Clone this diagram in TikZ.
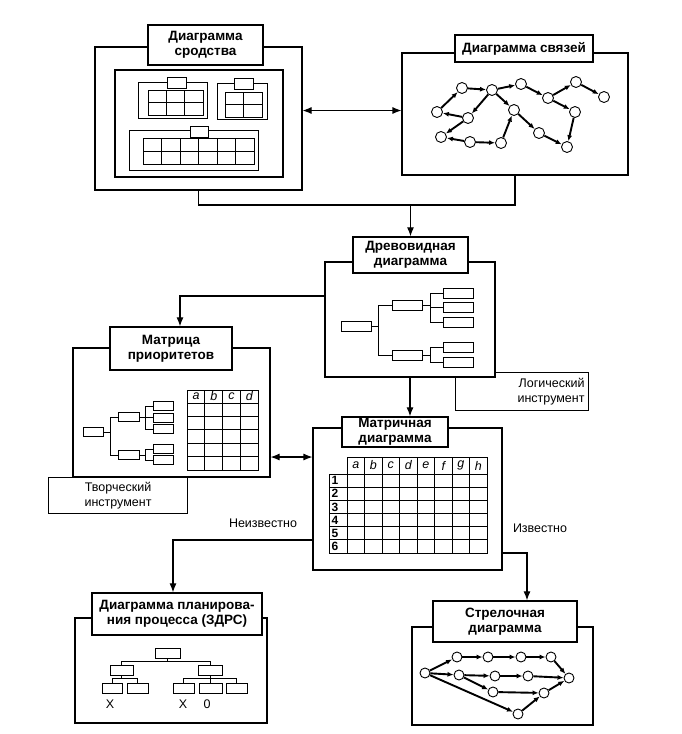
\documentclass[tikz,border=0pt]{standalone}
\usepackage{fontspec}
\setmainfont{Liberation Sans}
\usetikzlibrary{arrows.meta}
\newcommand{\paneltitlefont}{\bfseries\fontsize{13.5}{15}\selectfont}
\newcommand{\tooltextfont}{\fontsize{12.5}{15}\selectfont}

\begin{document}
\begin{tikzpicture}[x=1pt, y=-1pt, line width=1.1pt,
	frame/.style={draw, fill=white, inner sep=0pt},
	title/.style={draw, fill=white, line width=1.3pt, align=center, inner sep=0pt, font=\paneltitlefont},
	toolbox/.style={draw, inner sep=4pt, font=\tooltextfont},
	card/.style={draw, fill=white, line width=1pt, inner sep=0pt, minimum height=10pt},
	dot/.style={draw, circle, fill=white, line width=0.9pt, inner sep=0pt, minimum size=11pt},
	link/.style={line width=1.9pt, -{Latex[length=6pt,width=5pt]}},
	flow/.style={-{Latex[length=9pt,width=7pt]}},
	both/.style={{Latex[length=9pt,width=7pt]}-{Latex[length=9pt,width=7pt]}},
	cell/.style={line width=0.8pt}]

	\useasboundingbox (0,0) rectangle (681,734);

	% tool boxes sit behind the frames
	\node[toolbox, anchor=north west, minimum width=133pt, minimum height=38pt,
		text width=125pt, align=right] (logic) at (455,372) {Логический\\инструмент};
	\node[toolbox, anchor=north west, minimum width=139pt, minimum height=36pt,
		text width=131pt, align=center] (creative) at (48,477) {Творческий\\инструмент};

	\node[frame, minimum width=207pt, minimum height=143pt] (aff) at (198.5,118.5) {};
	\node[frame, minimum width=168pt, minimum height=107pt] (affin) at (199,123.5) {};
	\node[frame, minimum width=226pt, minimum height=122pt] (rel) at (515,114) {};
	\node[frame, minimum width=170pt, minimum height=115pt] (tree) at (410,319.5) {};
	\node[frame, minimum width=197pt, minimum height=129pt] (prio) at (171.5,412.5) {};
	\node[frame, minimum width=189pt, minimum height=142pt] (mat) at (407.5,499) {};
	\node[frame, minimum width=192pt, minimum height=105pt] (plan) at (171,670.5) {};
	\node[frame, minimum width=181pt, minimum height=98pt] (arr) at (502.5,676) {};

	% affinity groups
	\draw[cell] (138,82) rectangle (207,118);
	\foreach \c in {0,1,2} \foreach \r in {0,1}
		\draw[cell] ({148+18.33*\c},{90+12.5*\r}) rectangle ++(18.33,12.5);
	\node[card, minimum width=19pt, minimum height=11pt] (ga) at (176.5,82.5) {};
	\draw[cell] (217,83) rectangle (267,119);
	\foreach \c in {0,1} \foreach \r in {0,1}
		\draw[cell] ({225+18.5*\c},{92+12.5*\r}) rectangle ++(18.5,12.5);
	\node[card, minimum width=19pt, minimum height=11pt] (gb) at (243.5,83.5) {};
	\draw[cell] (129,130) rectangle (258,170);
	\foreach \c in {0,...,5} \foreach \r in {0,1}
		\draw[cell] ({143+18.5*\c},{138+13*\r}) rectangle ++(18.5,13);
	\node[card, minimum width=18pt, minimum height=11pt] (gc) at (199,131.5) {};

	% relations
	\foreach \name/\x/\y in {n1/462/88, n2/492/90, n3/521/84, n4/548/98, n5/576/82,
		n6/604/97, n7/437/112, n8/468/118, n9/514/110, n10/575/112, n11/441/137,
		n12/470/142, n13/501/143, n14/539/133, n15/567/147}
		\node[dot] (\name) at (\x,\y) {};
	\foreach \a/\b in {n7/n1, n1/n2, n2/n3, n3/n4, n4/n5, n5/n6, n2/n8, n8/n7, n2/n9,
		n8/n11, n12/n11, n12/n13, n13/n9, n9/n14, n14/n15, n10/n15, n4/n10}
		\draw[link] (\a) -- (\b);

	% tree
	\node[card, minimum width=30pt] (r) at (356,326) {};
	\node[card, minimum width=30pt] (m1) at (407,305) {};
	\node[card, minimum width=30pt] (m2) at (407,355) {};
	\foreach \name/\y in {l1/293, l2/307, l3/322, l4/347, l5/362}
		\node[card, minimum width=30pt] (\name) at (458,\y) {};
	\foreach \m in {m1,m2} \draw[cell] (r.east) -- ++(7,0) |- (\m.west);
	\foreach \l in {l1,l2,l3} \draw[cell] (m1.east) -- ++(8,0) |- (\l.west);
	\foreach \l in {l4,l5} \draw[cell] (m2.east) -- ++(8,0) |- (\l.west);

	% priority matrix
	\node[card, minimum width=20pt, minimum height=9pt] (pr) at (93,432) {};
	\node[card, minimum width=21pt, minimum height=9pt] (pm1) at (128.5,417) {};
	\node[card, minimum width=21pt, minimum height=9pt] (pm2) at (128.5,455) {};
	\foreach \name/\y in {pl1/406, pl2/417.5, pl3/429, pl4/449, pl5/460}
		\node[card, minimum width=20pt, minimum height=9pt] (\name) at (163,\y) {};
	\foreach \m in {pm1,pm2} \draw[cell] (pr.east) -- ++(7,0) |- (\m.west);
	\foreach \l in {pl1,pl2,pl3} \draw[cell] (pm1.east) -- ++(6,0) |- (\l.west);
	\foreach \l in {pl4,pl5} \draw[cell] (pm2.east) -- ++(6,0) |- (\l.west);
	\foreach \h [count=\i from 0] in {a,b,c,d} {
		\draw[cell] ({187+17.75*\i},390) rectangle ++(17.75,13);
		\node[font=\itshape\fontsize{12.5}{12}\selectfont] (ph\h) at ({196+17.75*\i},396.5) {\h};
	}
	\foreach \c in {0,...,3} \foreach \r in {0,...,4}
		\draw[cell] ({187+17.75*\c},{403+13.4*\r}) rectangle ++(17.75,13.4);

	% matrix diagram
	\foreach \h [count=\i from 0] in {a,b,c,d,e,f,g,h} {
		\draw[cell] ({347+17.5*\i},457) rectangle ++(17.5,17);
		\node[font=\itshape\fontsize{12.5}{12}\selectfont] (mh\h) at ({355.75+17.5*\i},465.5) {\h};
	}
	\foreach \r in {1,...,6} {
		\draw[cell] (329,{474+13.17*(\r-1)}) rectangle ++(18,13.17);
		\node[font=\bfseries\fontsize{12}{12}\selectfont, anchor=west, inner sep=1pt]
			(mr\r) at (330,{480.6+13.17*(\r-1)}) {\r};
	}
	\foreach \c in {0,...,7} \foreach \r in {0,...,5}
		\draw[cell] ({347+17.5*\c},{474+13.17*\r}) rectangle ++(17.5,13.17);

	% process chart
	\node[card, minimum width=25pt] (top) at (167.5,653) {};
	\node[card, minimum width=23pt] (L) at (121.5,670) {};
	\node[card, minimum width=24pt] (R) at (210,670) {};
	\foreach \name/\x/\w in {LL/112/20, LR/137.5/21, RL/183.5/21, RM/210.5/23, RR/236.5/21}
		\node[card, minimum width=\w pt] (\name) at (\x,688) {};
	\foreach \k in {L,R} \draw[cell] (top.south) -- ++(0,3) -| (\k.north);
	\foreach \k in {LL,LR} \draw[cell] (L.south) -- ++(0,3) -| (\k.north);
	\foreach \k in {RL,RM,RR} \draw[cell] (R.south) -- ++(0,3) -| (\k.north);
	\node[font=\tooltextfont] (xa) at (110,704) {X};
	\node[font=\tooltextfont] (xb) at (183,704) {X};
	\node[font=\tooltextfont] (zc) at (207,704) {0};

	% arrow diagram
	\foreach \name/\x/\y in {s/425/673, a1/457/657, a2/488/657, a3/521/657, a4/551/657,
		e/569/678, b1/459/675, b2/495/676, b3/528/676, c1/493/692, c2/544/693, d/518/714}
		\node[dot, minimum size=10pt] (\name) at (\x,\y) {};
	\foreach \a/\b in {s/a1, a1/a2, a2/a3, a3/a4, a4/e, s/b1, b1/b2, b2/b3, b3/e,
		b1/c1, c1/c2, c2/e, s/d, d/c2}
		\draw[link] (\a) -- (\b);

	% titles
	\node[title, minimum width=115pt, minimum height=40pt] (affT) at (205.5,45) {Диаграмма\\сродства};
	\node[title, minimum width=138pt, minimum height=27pt] (relT) at (524,48.5) {Диаграмма связей};
	\node[title, minimum width=115pt, minimum height=36pt] (treeT) at (410.5,255) {Древовидная\\диаграмма};
	\node[title, minimum width=122pt, minimum height=43pt] (prioT) at (171,348.5) {Матрица\\приоритетов};
	\node[title, minimum width=106pt, minimum height=30pt] (matT) at (395,432) {Матричная\\диаграмма};
	\node[title, minimum width=170pt, minimum height=42pt] (planT) at (177,614)
		{Диаграмма планирова-\\ния процесса (ЗДРС)};
	\node[title, minimum width=144pt, minimum height=41pt] (arrT) at (505,621.5) {Стрелочная\\диаграмма};

	% connectors
	\coordinate (join) at (410.5,205);
	\draw (aff.south) |- (join);
	\draw (rel.south) |- (join);
	\draw[flow] (join) -- (treeT.north);
	\draw[both] ([yshift=8pt]aff.east) -- ([yshift=8pt]aff.east -| rel.west);
	\draw[flow] ([yshift=23.5pt]tree.west) -| ([xshift=9pt]prioT.north);
	\draw[flow] (tree.south) -- (tree.south |- matT.north);
	\draw[both] ([yshift=-44.5pt]prio.east) -- ([yshift=-44.5pt]prio.east -| mat.west);
	\draw[flow] ([yshift=-41pt]mat.west) -| ([xshift=-4pt]planT.north);
	\draw[flow] ([yshift=-54pt]mat.east) -| ([xshift=22pt]arrT.north);
	\node[font=\tooltextfont] (unknown) at (263,523) {Неизвестно};
	\node[font=\tooltextfont] (known) at (540,528) {Известно};

\end{tikzpicture}
\end{document}
